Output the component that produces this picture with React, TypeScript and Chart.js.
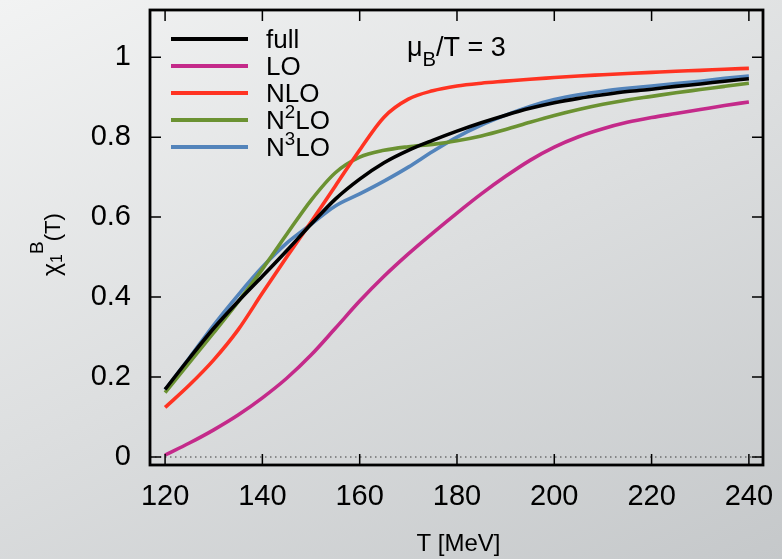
import { useEffect, useRef } from "react";
import { Chart, registerables } from "chart.js";

Chart.register(...registerables);

// Temperature grid in MeV
const temperatures = [
  120, 125, 130, 135, 140, 145, 150, 155, 160, 165, 170, 175, 180,
  185, 190, 195, 200, 205, 210, 215, 220, 225, 230, 235, 240,
];

// chi_1^B(T) at mu_B/T = 3 for the full result and each expansion order
const fullValues = [
  0.169, 0.247, 0.322, 0.389, 0.452, 0.516, 0.582, 0.645, 0.695, 0.736, 0.767, 0.792, 0.815,
  0.836, 0.855, 0.872, 0.886, 0.897, 0.906, 0.914, 0.92, 0.927, 0.933, 0.94, 0.946,
];
const loValues = [
  0.005, 0.035, 0.068, 0.105, 0.148, 0.197, 0.255, 0.322, 0.39, 0.452, 0.508, 0.56, 0.61,
  0.658, 0.702, 0.742, 0.775, 0.801, 0.821, 0.837, 0.849, 0.859, 0.869, 0.879, 0.888,
];
const nloValues = [
  0.124, 0.18, 0.243, 0.318, 0.41, 0.5, 0.588, 0.678, 0.768, 0.85, 0.895, 0.916, 0.928,
  0.935, 0.94, 0.945, 0.949, 0.953, 0.956, 0.959, 0.962, 0.965, 0.967, 0.97, 0.972,
];
const n2loValues = [
  0.161, 0.236, 0.311, 0.388, 0.47, 0.557, 0.642, 0.711, 0.75, 0.767, 0.776, 0.782, 0.791,
  0.803, 0.819, 0.837, 0.854, 0.869, 0.882, 0.893, 0.902, 0.911, 0.919, 0.927, 0.935,
];
const n3loValues = [
  0.168, 0.248, 0.33, 0.405, 0.475, 0.535, 0.582, 0.628, 0.658, 0.69, 0.725, 0.764, 0.8,
  0.83, 0.855, 0.877, 0.894, 0.906, 0.915, 0.922, 0.928, 0.934, 0.94, 0.947, 0.953,
];

// Series labels use ^x for a superscript character and _x for a subscript one
const seriesLabels = ["full", "LO", "NLO", "N^2LO", "N^3LO"];
const seriesColors = ["#000000", "#c42a8a", "#ff3322", "#6b9232", "#5384bb"];

const xTickValues = [120, 140, 160, 180, 200, 220, 240];
const yTickValues = [0, 0.2, 0.4, 0.6, 0.8, 1];

const xAxisTitle = "T [MeV]";
const annotationText = "\u03bc_B/T = 3";

const FONT = '"Liberation Sans", Arial, Helvetica, sans-serif';

type Part = { text: string; size: number; dy: number };

function parseRich(s: string, size: number, supScale = 0.7, subScale = 0.7, supRise = 0.42, subDrop = 0.3): Part[] {
  const parts: Part[] = [];
  let buf = "";
  let i = 0;
  while (i < s.length) {
    const c = s[i];
    if ((c === "^" || c === "_") && i + 1 < s.length) {
      if (buf) {
        parts.push({ text: buf, size, dy: 0 });
        buf = "";
      }
      if (c === "^") parts.push({ text: s[i + 1], size: size * supScale, dy: -size * supRise });
      else parts.push({ text: s[i + 1], size: size * subScale, dy: size * subDrop });
      i += 2;
    } else {
      buf += c;
      i += 1;
    }
  }
  if (buf) parts.push({ text: buf, size, dy: 0 });
  return parts;
}

function drawParts(ctx: CanvasRenderingContext2D, parts: Part[], x: number, y: number) {
  let cx = x;
  for (const p of parts) {
    ctx.font = `${p.size}px ${FONT}`;
    ctx.fillText(p.text, cx, y + p.dy);
    cx += ctx.measureText(p.text).width;
  }
}

function partsWidth(ctx: CanvasRenderingContext2D, parts: Part[]) {
  let w = 0;
  for (const p of parts) {
    ctx.font = `${p.size}px ${FONT}`;
    w += ctx.measureText(p.text).width;
  }
  return w;
}

const decorations = {
  id: "decorations",
  beforeDatasetsDraw(chart: any) {
    const { ctx, chartArea: a, scales } = chart;
    const y0 = scales.y.getPixelForValue(0);
    ctx.save();
    ctx.strokeStyle = "#3a3a3a";
    ctx.lineWidth = 1;
    ctx.setLineDash([1.5, 3.5]);
    ctx.beginPath();
    ctx.moveTo(a.left, y0);
    ctx.lineTo(a.right, y0);
    ctx.stroke();
    ctx.restore();
  },
  afterDraw(chart: any) {
    const { ctx, chartArea: a, scales } = chart;
    const xs = scales.x;
    const ys = scales.y;
    ctx.save();

    // inward ticks on all four sides
    const tl = 11;
    ctx.strokeStyle = "#000";
    ctx.lineWidth = 1.5;
    ctx.beginPath();
    for (const v of xTickValues) {
      const px = xs.getPixelForValue(v);
      ctx.moveTo(px, a.bottom);
      ctx.lineTo(px, a.bottom - tl);
      ctx.moveTo(px, a.top);
      ctx.lineTo(px, a.top + tl);
    }
    for (const v of yTickValues) {
      const py = ys.getPixelForValue(v);
      ctx.moveTo(a.left, py);
      ctx.lineTo(a.left + tl, py);
      ctx.moveTo(a.right, py);
      ctx.lineTo(a.right - tl, py);
    }
    ctx.stroke();

    // plot frame
    ctx.lineWidth = 2.8;
    ctx.strokeRect(a.left, a.top, a.right - a.left, a.bottom - a.top);

    // legend
    ctx.fillStyle = "#000";
    ctx.textAlign = "left";
    ctx.textBaseline = "alphabetic";
    ctx.lineCap = "butt";
    seriesLabels.forEach((label, i) => {
      const ly = 39 + i * 27;
      ctx.strokeStyle = seriesColors[i];
      ctx.lineWidth = 4;
      ctx.beginPath();
      ctx.moveTo(171, ly);
      ctx.lineTo(248, ly);
      ctx.stroke();
      drawParts(ctx, parseRich(label, 26, 0.72, 0.72, 0.44, 0.3), 266, ly + 9);
    });

    // parameter annotation
    drawParts(ctx, parseRich(annotationText, 27, 0.75, 0.75, 0.42, 0.36), 407, 56);

    // x axis title
    const xt = parseRich(xAxisTitle, 24);
    const xw = partsWidth(ctx, xt);
    drawParts(ctx, xt, (a.left + a.right) / 2 - xw / 2 + 2, 551);

    // y axis title, rotated: chi with subscript 1 and superscript B
    ctx.translate(60, 276);
    ctx.rotate(-Math.PI / 2);
    drawParts(
      ctx,
      [
        { text: "\u03c7", size: 25, dy: 0 },
        { text: "1", size: 16, dy: 2 },
        { text: "B", size: 19, dy: -17 },
        { text: "(T)", size: 22, dy: 0 },
      ],
      0,
      0
    );
    ctx.restore();
  },
};

export default function App() {
  const canvasRef = useRef<HTMLCanvasElement>(null);

  useEffect(() => {
    const canvas = canvasRef.current;
    if (!canvas) return;
    const series = [fullValues, loValues, nloValues, n2loValues, n3loValues];
    const chart = new Chart(canvas, {
      type: "line",
      data: {
        datasets: series.map((vals, i) => ({
          label: seriesLabels[i].replace("^2", "\u00b2").replace("^3", "\u00b3"),
          data: temperatures.map((t, j) => ({ x: t, y: vals[j] })),
          borderColor: seriesColors[i],
          backgroundColor: seriesColors[i],
          borderWidth: 3.6,
          pointRadius: 0,
          cubicInterpolationMode: "monotone" as const,
          fill: false,
        })),
      },
      options: {
        animation: false,
        responsive: false,
        devicePixelRatio: 1,
        layout: { padding: { top: 10, right: 19, left: 0, bottom: 0 } },
        plugins: { legend: { display: false }, tooltip: { enabled: false } },
        scales: {
          x: {
            type: "linear",
            min: 116.9,
            max: 242.9,
            afterBuildTicks: (s: any) => {
              s.ticks = xTickValues.map((v) => ({ value: v }));
            },
            afterFit: (s: any) => {
              s.height = 94;
              s.paddingLeft = 0;
              s.paddingRight = 0;
            },
            grid: { display: false, drawTicks: false },
            border: { display: false },
            ticks: {
              color: "#000",
              font: { family: FONT, size: 29 },
              padding: 15,
              maxRotation: 0,
              autoSkip: false,
              callback: (v: any) => String(Number(v)),
            },
          },
          y: {
            type: "linear",
            min: -0.02,
            max: 1.118,
            afterBuildTicks: (s: any) => {
              s.ticks = yTickValues.map((v) => ({ value: v }));
            },
            afterFit: (s: any) => {
              s.width = 150;
              s.paddingTop = 0;
              s.paddingBottom = 0;
            },
            grid: { display: false, drawTicks: false },
            border: { display: false },
            ticks: {
              color: "#000",
              font: { family: FONT, size: 29 },
              padding: 19,
              autoSkip: false,
              callback: (v: any) => String(Number(v)),
            },
          },
        },
      },
      plugins: [decorations],
    });
    return () => chart.destroy();
  }, []);

  return (
    <div
      style={{
        position: "fixed",
        left: 0,
        top: 0,
        width: 782,
        height: 559,
        background: "linear-gradient(155deg, #f2f3f3 0%, #dcdedf 50%, #c5c8ca 100%)",
      }}
    >
      <canvas ref={canvasRef} width={782} height={559} style={{ display: "block", width: 782, height: 559 }} />
    </div>
  );
}
